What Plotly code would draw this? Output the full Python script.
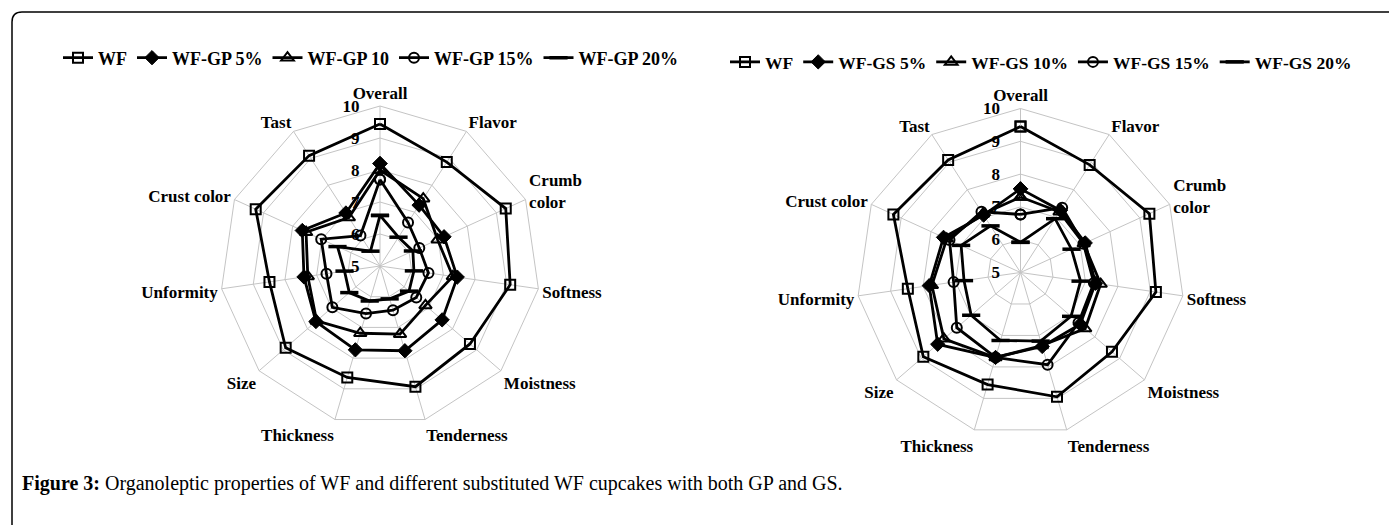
import plotly.graph_objects as go

# ---------------- data ----------------
categories = ["Overall", "Flavor", "Crumb<br>color", "Softness", "Moistness",
              "Tenderness", "Thickness", "Size", "Unformity", "Crust color", "Tast"]

gp_names = ["WF", "WF-GP 5%", "WF-GP 10", "WF-GP 15%", "WF-GP 20%"]
gs_names = ["WF", "WF-GS 5%", "WF-GS 10%", "WF-GS 15%", "WF-GS 20%"]

gp_wf   = [9.44, 8.86, 9.32, 9.11, 8.72, 8.93, 8.63, 8.90, 8.49, 9.27, 9.10]
gp_5    = [8.20, 7.26, 7.20, 7.44, 7.57, 7.76, 7.73, 7.65, 7.40, 7.67, 6.97]
gp_10   = [8.00, 7.50, 6.98, 7.30, 6.88, 7.22, 7.19, 7.62, 7.28, 7.54, 6.80]
gp_15   = [7.70, 6.62, 6.35, 6.53, 6.50, 6.44, 6.55, 6.97, 6.69, 7.02, 6.13]
gp_20   = [6.58, 6.07, 6.13, 6.07, 6.20, 6.07, 6.14, 6.27, 6.12, 6.46, 5.55]

gs_wf   = [9.45, 8.90, 9.32, 9.17, 8.69, 8.95, 8.56, 8.92, 8.47, 9.26, 9.08]
gs_5    = [7.55, 7.25, 7.17, 7.31, 7.41, 7.35, 7.70, 8.34, 7.81, 7.58, 7.08]
gs_10   = [7.30, 7.20, 7.12, 7.47, 7.61, 7.32, 7.70, 8.09, 7.73, 7.47, 7.12]
gs_15   = [6.77, 7.35, 7.11, 7.26, 7.34, 7.93, 7.70, 7.57, 7.06, 7.38, 7.20]
gs_20   = [5.92, 6.95, 6.71, 6.85, 7.04, 7.18, 7.16, 6.99, 6.74, 6.99, 6.69]

radial_ticks = [5, 6, 7, 8, 9, 10]

caption_bold = "Figure 3:"
caption_text = " Organoleptic properties of WF and different substituted WF cupcakes with both GP and GS."

# ---------------- styling ----------------
W, H = 1389, 525
SERIF = "Liberation Serif, Times New Roman, serif"
GRID = "#c4c4c4"
markers = [
    dict(symbol="square-open", size=10, color="black", line=dict(width=2, color="black")),
    dict(symbol="diamond", size=11, color="black", line=dict(width=1, color="black")),
    dict(symbol="triangle-up-open", size=11, color="black", line=dict(width=2, color="black")),
    dict(symbol="circle-open", size=10, color="black", line=dict(width=2, color="black")),
    dict(symbol="line-ew", size=13, color="black", line=dict(width=3.5, color="black")),
]

fig = go.Figure()

def closed(v):
    return list(v) + [v[0]]

cat_closed = closed(categories)

for i, (name, vals) in enumerate(zip(gp_names, [gp_wf, gp_5, gp_10, gp_15, gp_20])):
    fig.add_trace(go.Scatterpolar(
        r=closed(vals), theta=cat_closed, name=name, mode="lines+markers",
        line=dict(color="black", width=2.8), marker=markers[i],
        subplot="polar", legend="legend", showlegend=True))

for i, (name, vals) in enumerate(zip(gs_names, [gs_wf, gs_5, gs_10, gs_15, gs_20])):
    fig.add_trace(go.Scatterpolar(
        r=closed(vals), theta=cat_closed, name=name, mode="lines+markers",
        line=dict(color="black", width=2.8), marker=markers[i],
        subplot="polar2", legend="legend2", showlegend=True))


def polar_layout(cx, cy, r):
    return dict(
        domain=dict(x=[(cx - r) / W, (cx + r) / W], y=[1 - (cy + r) / H, 1 - (cy - r) / H]),
        bgcolor="white",
        gridshape="linear",
        angularaxis=dict(
            type="category", categoryarray=categories, direction="clockwise", rotation=90,
            showline=True, linecolor=GRID, linewidth=1, gridcolor=GRID, gridwidth=1,
            ticks="", tickfont=dict(family=SERIF, size=17, color="black", weight="bold"),
        ),
        radialaxis=dict(
            range=[5, 10], tickvals=radial_ticks, angle=90, tickangle=90,
            side="counterclockwise", showline=False, gridcolor=GRID, gridwidth=1,
            ticks="outside", ticklen=14, tickcolor="rgba(0,0,0,0)", layer="below traces",
            tickfont=dict(family=SERIF, size=17, color="black", weight="bold"),
        ),
    )


fig.update_layout(
    width=W, height=H,
    margin=dict(l=0, r=0, t=0, b=0),
    paper_bgcolor="white",
    polar=polar_layout(380, 266, 160),
    polar2=polar_layout(1020.5, 272.5, 164),
    legend=dict(orientation="h", x=58 / W, xanchor="left", y=1 - 58 / H, yanchor="middle",
                font=dict(family=SERIF, size=18, color="black", weight="bold"),
                bgcolor="rgba(0,0,0,0)", itemwidth=30, tracegroupgap=0),
    legend2=dict(orientation="h", x=725 / W, xanchor="left", y=1 - 62 / H, yanchor="middle",
                 font=dict(family=SERIF, size=17.5, color="black", weight="bold"),
                 bgcolor="rgba(0,0,0,0)", itemwidth=30, tracegroupgap=0),
    annotations=[
        dict(xref="paper", yref="paper", x=20 / W, y=1 - 483 / H, xanchor="left", yanchor="middle",
             showarrow=False, align="left",
             text="<b>" + caption_bold + "</b>" + caption_text,
             font=dict(family=SERIF, size=20, color="black")),
    ],
)

# rounded frame (top-left corner visible; extends past right and bottom edges)
x0, y0 = 12 / W, 1 - 12 / H
rx, ry = 10 / W, 10 / H
fig.add_shape(type="path", xref="paper", yref="paper",
              path=f"M {x0} -0.1 L {x0} {y0 - ry} Q {x0} {y0} {x0 + rx} {y0} L 1.1 {y0}",
              line=dict(color="black", width=1.5))

fig.write_html("out.html", config={"displayModeBar": False},
               post_script="document.body.style.margin='0';document.body.style.overflow='hidden';")
